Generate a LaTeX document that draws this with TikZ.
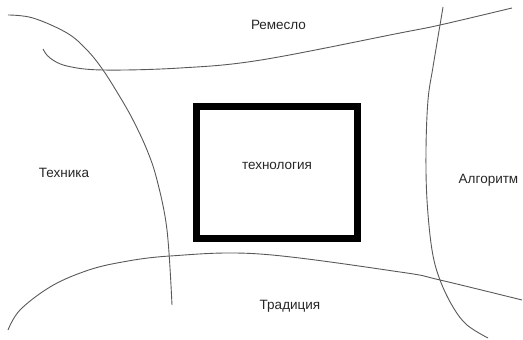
\documentclass[tikz,border=0pt]{standalone}
\usepackage{fontspec}
\setmainfont{Liberation Sans}
\begin{document}
\begin{tikzpicture}[x=1pt,y=-1pt,
  curve/.style={draw=black!65, line width=0.9pt, smooth, tension=0.6},
  lbl/.style={font=\fontsize{13.5}{15}\selectfont, text=black!85, inner sep=0pt},
  frame/.style={draw=black, line width=7pt}]
\useasboundingbox (0,0) rectangle (523,340);
% top curve (Ремесло)
\draw[curve] plot coordinates {(43,49) (50,58) (67,66) (103,70) (180,68) (261,60) (400,33) (440,25) (512,8)};
% left curve (Техника)
\draw[curve] plot coordinates {(8,15) (33,18) (67,33) (87,50) (103,70) (120,97) (133,120) (147,150) (157,180) (167,230) (172,305)};
% bottom curve (Традиция)
\draw[curve] plot coordinates {(8,330) (20,310) (50,287) (83,272) (117,263) (170,256) (260,254) (400,272) (440,280) (522,300)};
% right curve (Алгоритм)
\draw[curve] plot coordinates {(443,7) (440,25) (433,67) (428,100) (426,150) (427,200) (432,250) (440,280) (453,307) (467,325) (488,338)};
% central frame
\draw[frame] (196.5,106.5) rectangle (357,238);
\node[lbl] (tech) at (277,166) {технология};
\node[lbl] (rem) at (278.5,25) {Ремесло};
\node[lbl] (tex) at (64,172.5) {Техника};
\node[lbl] (alg) at (488.5,180) {Алгоритм};
\node[lbl] (trad) at (290,306) {Традиция};
\end{tikzpicture}
\end{document}
